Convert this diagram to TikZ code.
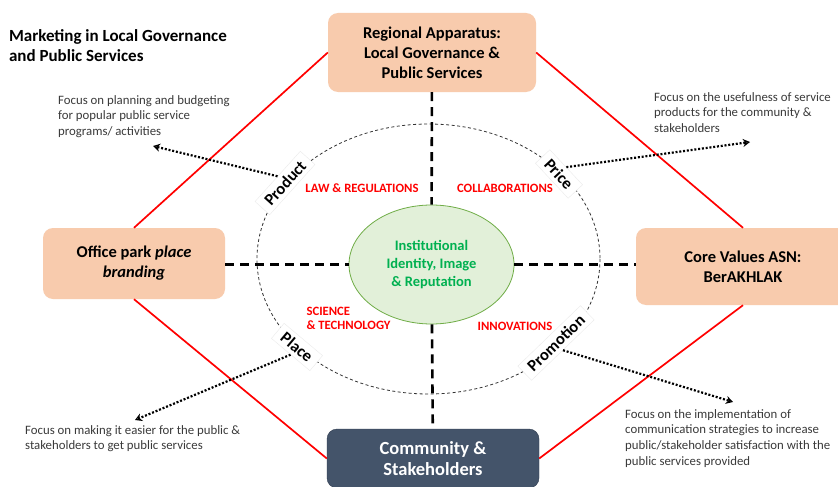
\documentclass[tikz,border=0pt]{standalone}
\usepackage{fontspec}
\setmainfont{Carlito}
\usetikzlibrary{shapes.geometric,arrows.meta}
\definecolor{peach}{HTML}{F8CBAD}
\definecolor{slate}{HTML}{44546A}
\definecolor{slateline}{HTML}{2F3C4F}
\definecolor{leaf}{HTML}{E2F0D9}
\definecolor{leafline}{HTML}{70AD47}
\definecolor{leaftext}{HTML}{00B050}
\definecolor{notegray}{HTML}{3A3A3A}

\begin{document}
\begin{tikzpicture}[x=1pt,y=-1pt,
            box/.style={rectangle,rounded corners=10pt,align=center,font=\bfseries\fontsize{16.5}{20}\selectfont},
            peachbox/.style={box,fill=peach},
            mixlabel/.style={fill=white,draw=black!8,inner xsep=7pt,inner ysep=4pt,font=\bfseries\fontsize{16.5}{20}\selectfont},
            field/.style={text=red,align=left,font=\bfseries\fontsize{12.7}{14}\selectfont},
            note/.style={anchor=north west,inner sep=0pt,align=left,text=notegray,font=\fontsize{12.8}{15.7}\selectfont},
            axis/.style={line width=2.6pt,dash pattern=on 9pt off 6pt},
            side/.style={red,line width=1.7pt},
            pointer/.style={line width=2.2pt,dash pattern=on 2pt off 1.8pt,-{Stealth[open,length=7pt,width=8pt,line width=1.3pt]}}]
            \useasboundingbox [fill=white] (0,0) rectangle (838,487);
            \draw [black!80,line width=0.8pt,dash pattern=on 3pt off 2.5pt] (428.5,259) ellipse [x radius=171.5, y radius=135];
            \node (title) [anchor=west,align=left,font=\bfseries\fontsize{17}{20}\selectfont] at (5.5,46) {Marketing in Local Governance\\and Public Services};
            \node (apparatus) [peachbox,minimum width=208pt,minimum height=79pt] at (432,52.5) {Regional Apparatus:\\Local Governance \&\\Public Services};
            \node (officepark) [peachbox,minimum width=182pt,minimum height=71pt] at (134,263.5) {Office park \textit{place}\\\textit{branding}};
            \node (corevalues) [peachbox,minimum width=214pt,minimum height=77pt] at (743,266.5) {Core Values ASN:\\BerAKHLAK};
            \node (community) [box,fill=slate,draw=slateline,text=white,minimum width=212pt,minimum height=59pt,font=\bfseries\fontsize{18.5}{21.5}\selectfont] at (433,458.5) {Community \&\\Stakeholders};
            \node (identity) [ellipse,fill=leaf,draw=leafline,line width=0.8pt,text=leaftext,align=center,inner sep=0pt,minimum width=165pt,minimum height=119pt,font=\bfseries\fontsize{14.5}{18}\selectfont] at (431.5,264.5) {Institutional\\Identity, Image\\\& Reputation};
            \node (product) [mixlabel,rotate=48] at (285,183) {Product};
            \node (price) [mixlabel,rotate=-47] at (559,174) {Price};
            \node (place) [mixlabel,rotate=-40] at (297,347) {Place};
            \node (promotion) [mixlabel,rotate=44] at (556,343) {Promotion};
            \node (law) [field] at (362,188) {LAW \& REGULATIONS};
            \node (collab) [field] at (505,188) {COLLABORATIONS};
            \node (scitech) [field,anchor=west] at (303,318) {SCIENCE\\\& TECHNOLOGY};
            \node (innov) [field] at (515,326) {INNOVATIONS};
            \node (productnote) [note] at (58,95) {Focus on planning and budgeting\\for popular public service\\programs/ activities};
            \node (pricenote) [note] at (654,92) {Focus on the usefulness of service\\products for the community \&\\stakeholders};
            \node (placenote) [note] at (25,425) {Focus on making it easier for the public \&\\stakeholders to get public services};
            \node (promotionnote) [note] at (625,409) {Focus on the implementation of\\communication strategies to increase\\public/stakeholder satisfaction with the\\public services provided};
            \coordinate (producttip) at (153,146);
            \coordinate (pricetip) at (750,142);
            \coordinate (placetip) at (135,420);
            \coordinate (promotiontip) at (733,402);
            \draw [side] (apparatus.west) -- (officepark.north);
            \draw [side] (apparatus.east) -- (corevalues.north);
            \draw [side] (officepark.south) -- (community.west);
            \draw [side] (corevalues.south) -- (community.east);
            \draw [axis] (apparatus) -- (identity);
            \draw [axis] (identity) -- (community);
            \draw [axis] (officepark.east |- identity.west) -- (identity.west);
            \draw [axis] (identity.east) -- (identity.east -| corevalues.west);
            \draw [pointer] (product.north) -- (producttip);
            \draw [pointer] (price.north) -- (pricetip);
            \draw [pointer] (place.south) -- (placetip);
            \draw [pointer] (promotion.south) -- (promotiontip);
          \end{tikzpicture}
\end{document}
